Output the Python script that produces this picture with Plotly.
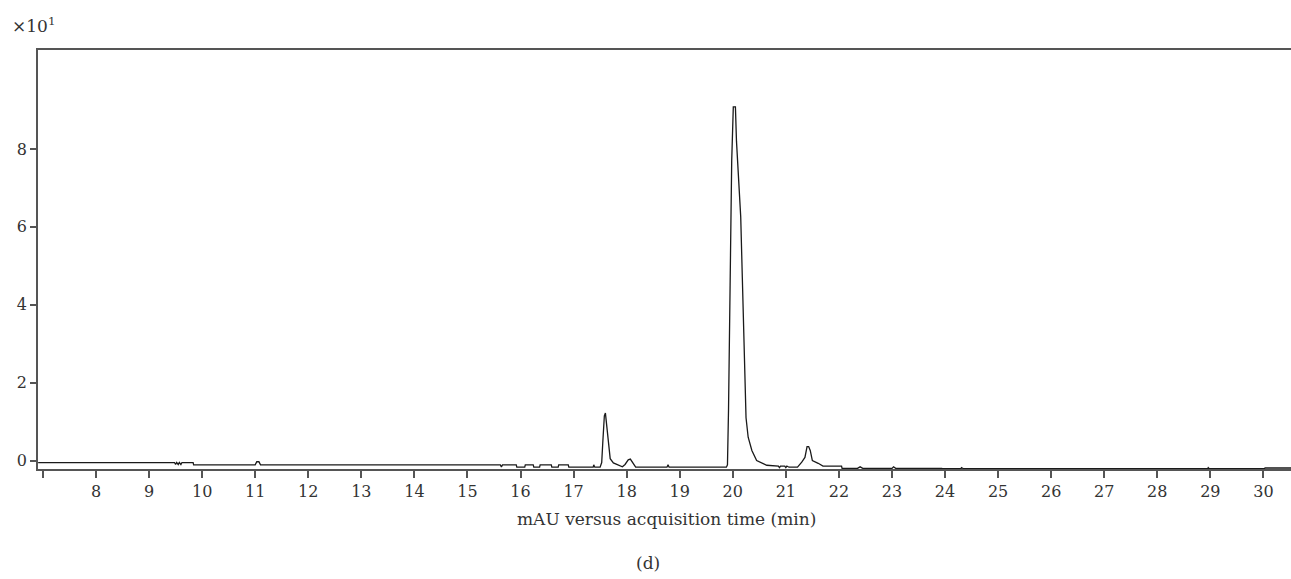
import plotly.graph_objects as go

# Retention time (min) and absorbance (x10 mAU)
time_min = [
    6.91, 9.48, 9.50, 9.52, 9.55, 9.57, 9.60, 9.62, 9.83, 9.84,
    11.00, 11.03, 11.07, 11.10, 15.62, 15.64, 15.66, 15.92, 15.93, 16.08,
    16.09, 16.24, 16.25, 16.36, 16.37, 16.58, 16.59, 16.71, 16.72, 16.90,
    16.91, 17.37, 17.38, 17.40, 17.50, 17.53, 17.55, 17.58, 17.60, 17.62,
    17.64, 17.66, 17.69, 17.75, 17.86, 17.92, 17.97, 18.03, 18.07, 18.12,
    18.17, 18.76, 18.78, 18.80, 19.88, 19.90, 19.92, 19.95, 19.98, 20.01,
    20.05, 20.07, 20.15, 20.18, 20.20, 20.22, 20.25, 20.29, 20.36, 20.45,
    20.52, 20.64, 20.86, 20.88, 20.90, 20.98, 21.00, 21.02, 21.06, 21.22,
    21.30, 21.36, 21.40, 21.43, 21.46, 21.50, 21.61, 21.70, 22.05, 22.06,
    22.35, 22.40, 22.45, 23.00, 23.03, 23.07, 23.94, 23.95, 24.30, 24.31,
    24.35, 28.95, 28.96, 28.98, 30.02, 30.03, 30.52,
]
absorbance = [
    -0.05, -0.05, -0.10, -0.05, -0.10, -0.05, -0.10, -0.05, -0.05, -0.11,
    -0.11, -0.03, -0.03, -0.11, -0.11, -0.16, -0.11, -0.11, -0.17, -0.17,
    -0.11, -0.11, -0.17, -0.17, -0.11, -0.11, -0.17, -0.17, -0.11, -0.11,
    -0.17, -0.17, -0.11, -0.17, -0.17, -0.05, 0.45, 1.15, 1.22, 0.95,
    0.55, 0.30, 0.05, -0.06, -0.13, -0.16, -0.10, 0.02, 0.04, -0.06,
    -0.17, -0.17, -0.11, -0.17, -0.17, -0.11, 1.30, 4.50, 7.70, 9.08,
    9.08, 8.20, 6.25, 4.70, 3.50, 2.06, 1.10, 0.60, 0.26, 0.00,
    -0.04, -0.12, -0.14, -0.18, -0.14, -0.14, -0.18, -0.14, -0.17, -0.17,
    -0.04, 0.08, 0.36, 0.36, 0.26, 0.00, -0.07, -0.14, -0.14, -0.20,
    -0.20, -0.16, -0.20, -0.20, -0.16, -0.20, -0.20, -0.21, -0.21, -0.18,
    -0.21, -0.21, -0.18, -0.21, -0.21, -0.19, -0.19,
]

x_ticks = list(range(7, 31))
x_ticktext = [""] + [str(v) for v in range(8, 31)]
y_ticks = [0, 2, 4, 6, 8]

FONT = "DejaVu Serif"
TEXT_COLOR = "#333333"
AXIS_COLOR = "#555555"
PLOT_W, PLOT_H = 1253, 419

fig = go.Figure()
fig.add_trace(go.Scatter(
    x=time_min, y=absorbance, mode="lines",
    line=dict(color="#1a1a1a", width=1.3),
    showlegend=False, hoverinfo="skip",
))

fig.update_layout(
    width=1291, height=579,
    margin=dict(l=38, r=0, t=50, b=110),
    paper_bgcolor="white", plot_bgcolor="white",
    font=dict(family=FONT, size=16, color=TEXT_COLOR),
    xaxis=dict(
        range=[6.907, 30.52],
        tickmode="array", tickvals=x_ticks, ticktext=x_ticktext,
        ticks="outside", ticklen=7, tickwidth=1.5, tickcolor=AXIS_COLOR,
        showline=True, linecolor=AXIS_COLOR, linewidth=1.5, mirror=True,
        showgrid=False, zeroline=False,
        tickfont=dict(family=FONT, size=16, color=TEXT_COLOR),
    ),
    yaxis=dict(
        range=[-0.216, 10.54],
        tickmode="array", tickvals=y_ticks,
        ticks="outside", ticklen=6, tickwidth=1.5, tickcolor=AXIS_COLOR,
        showline=True, linecolor=AXIS_COLOR, linewidth=1.5,
        showgrid=False, zeroline=False,
        tickfont=dict(family=FONT, size=16, color=TEXT_COLOR),
    ),
    annotations=[
        dict(text="×10<sup>1</sup>", xref="paper", yref="paper",
             x=(10 - 38) / PLOT_W, y=1 + 25 / PLOT_H, xanchor="left", yanchor="middle",
             showarrow=False, font=dict(family=FONT, size=17, color=TEXT_COLOR)),
        dict(text="mAU versus acquisition time (min)", xref="paper", yref="paper",
             x=(666 - 38) / PLOT_W, y=-(519 - 469) / PLOT_H, xanchor="center", yanchor="middle",
             showarrow=False, font=dict(family=FONT, size=17, color=TEXT_COLOR)),
        dict(text="(d)", xref="paper", yref="paper",
             x=(648 - 38) / PLOT_W, y=-(563 - 469) / PLOT_H, xanchor="center", yanchor="middle",
             showarrow=False, font=dict(family=FONT, size=17, color=TEXT_COLOR)),
    ],
)

fig.write_html("out.html")
